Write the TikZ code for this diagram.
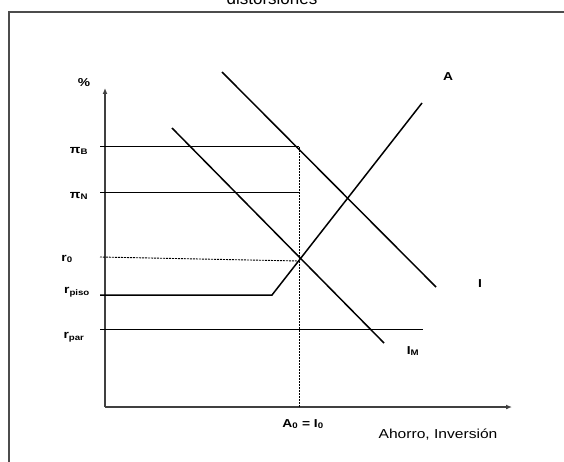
\documentclass[tikz,border=0pt]{standalone}
\usepackage{fontspec}
\setmainfont{Liberation Sans}
\newfontfamily\widesans{Liberation Sans}[FakeStretch=1.2]
\usetikzlibrary{arrows.meta}
\begin{document}
\begin{tikzpicture}[x=1pt,y=-1pt,
  curve/.style={line width=1.5pt},
  level/.style={line width=1pt},
  guide/.style={line width=0.9pt, dash pattern=on 2pt off 1pt},
  lab/.style={font=\widesans\fontsize{11.5}{12}\selectfont\bfseries, inner sep=0pt},
  axis/.style={line width=1.6pt, draw=black!75, -{Latex[length=6pt,width=5pt]}},
  frame/.style={line width=2pt, draw=black!70}]
\useasboundingbox (0,0) rectangle (564,462);
\clip (0,0) rectangle (564,462);
\node[font=\fontsize{17}{20}\selectfont, anchor=base, inner sep=0pt] (title) at (272,4.5) {distorsiones};
\draw[frame] (9,462) -- (9,12) -- (564,12);
% coordinates
\coordinate (O) at (105,407);
\coordinate (ytop) at (105,88);
\coordinate (xend) at (512,407);
\coordinate (pBl) at (100,147);
\coordinate (pBr) at (299,147);
\coordinate (pNl) at (100,193);
\coordinate (pNr) at (299,193);
\coordinate (r0l) at (100,257);
\coordinate (E) at (299,261);
\coordinate (rpl) at (100,295);
\coordinate (rpk) at (272,295);
\coordinate (Atop) at (422,103);
\coordinate (rql) at (100,329);
\coordinate (rqr) at (423,329);
\coordinate (Ibase) at (299,407);
\coordinate (Is) at (222,72);
\coordinate (Ie) at (436,287);
\coordinate (Ms) at (172,128);
\coordinate (Me) at (384,343);
% axes
\draw[axis] (O) -- (ytop);
\draw[axis] (O) -- (xend);
% levels
\draw[level] (pBl) -- (pBr);
\draw[level] (pNl) -- (pNr);
\draw[guide] (r0l) -- (E);
\draw[level] (rql) -- (rqr);
\draw[guide] (pBr) -- (Ibase);
% curves
\draw[curve] (rpl) -- (rpk) -- (Atop);
\draw[curve] (Is) -- (Ie);
\draw[curve] (Ms) -- (Me);
% labels
\node[lab] (pct) at (84,83) {\%};
\node[lab] (lpB) at (79,151) {π\textsubscript{B}};
\node[lab] (lpN) at (79,196) {π\textsubscript{N}};
\node[lab] (lr0) at (67,259) {r\textsubscript{0}};
\node[lab] (lrp) at (77,292) {r\textsubscript{piso}};
\node[lab] (lrq) at (74,337) {r\textsubscript{par}};
\node[lab] (lA) at (448,77) {A};
\node[lab] (lI) at (480,284) {I};
\node[lab] (lIM) at (413,351) {I\textsubscript{M}};
\node[lab] (lAI) at (303,424) {A\textsubscript{0} = I\textsubscript{0}};
\node[font=\widesans\fontsize{13}{14}\selectfont, inner sep=0pt] (lx) at (438,435) {Ahorro, Inversión};
\end{tikzpicture}
\end{document}
